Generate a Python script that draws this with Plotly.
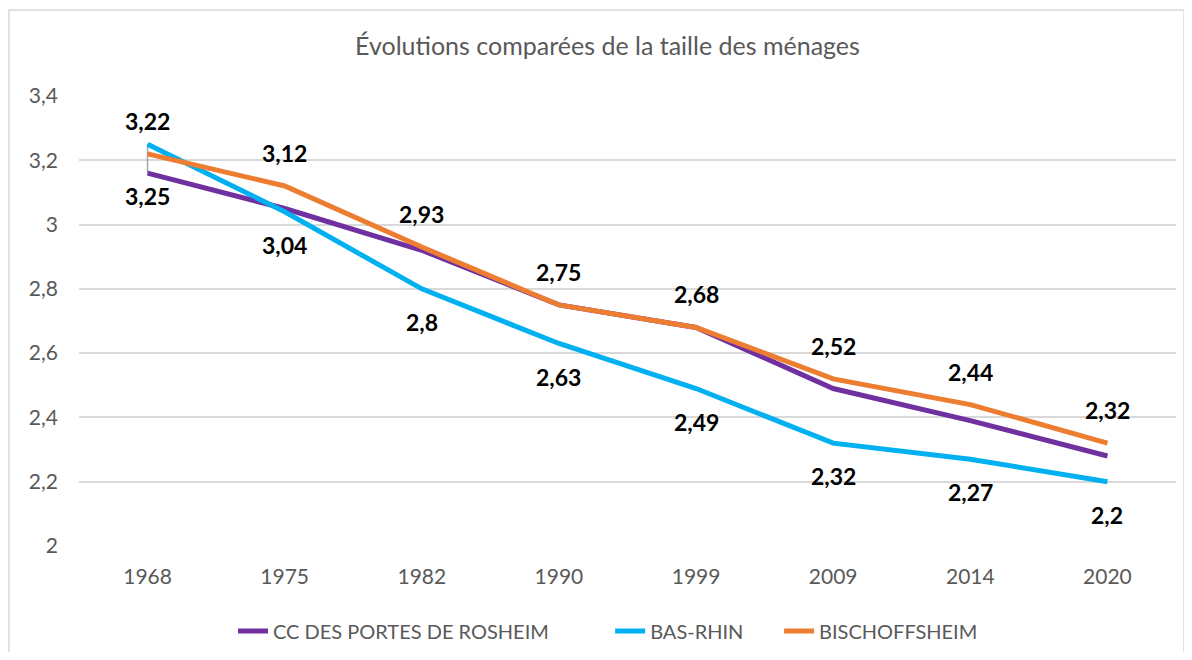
import plotly.graph_objects as go

years = ["1968", "1975", "1982", "1990", "1999", "2009", "2014", "2020"]
rosheim = [3.16, 3.05, 2.92, 2.75, 2.68, 2.49, 2.39, 2.28]
bas_rhin = [3.25, 3.04, 2.80, 2.63, 2.49, 2.32, 2.27, 2.20]
bischoffsheim = [3.22, 3.12, 2.93, 2.75, 2.68, 2.52, 2.44, 2.32]

series_names = ["CC DES PORTES DE ROSHEIM", "BAS-RHIN", "BISCHOFFSHEIM"]
colors = ["#7030A0", "#00B0F0", "#ED7D31"]
legend_pad = [11, 6, 0]  # non-breaking spaces to widen legend spacing

# page has an 8px body margin, so the figure is offset by 8px
OFF = 8
W, H = 1192 - 2 * OFF, 660 - 2 * OFF
ml, mt = 79 - OFF, 96 - OFF
mr = W - (1176 - OFF)
mb = H - (546 - OFF)

fig = go.Figure()
# leader line for the first Bas-Rhin label
fig.add_trace(go.Scatter(x=[years[0], years[0]], y=[rosheim[0], bas_rhin[0]], mode="lines",
                         line=dict(color="#A6A6A6", width=1.5), showlegend=False, hoverinfo="skip"))
for name, vals, col, pad in zip(series_names, [rosheim, bas_rhin, bischoffsheim], colors, legend_pad):
    fig.add_trace(go.Scatter(x=years, y=vals, mode="lines", name=name + "\u00a0" * pad,
                             line=dict(color=col, width=5)))

def fmt(v):
    s = f"{v:.2f}".rstrip("0").rstrip(".")
    return s.replace(".", ",")

annos = []
lab_font = dict(family="Lato, Open Sans, sans-serif", size=23, color="#000000")
for i, v in enumerate(bischoffsheim):
    annos.append(dict(x=i, y=v, text=f"<b>{fmt(v)}</b>", showarrow=False, yshift=33,
                      font=lab_font, xref="x", yref="y"))
for i, v in enumerate(bas_rhin):
    annos.append(dict(x=i, y=v, text=f"<b>{fmt(v)}</b>", showarrow=False,
                      yshift=-52 if i == 0 else -33, font=lab_font, xref="x", yref="y"))

pw = W - ml - mr
ph = H - mt - mb
fig.update_layout(
    width=W, height=H,
    margin=dict(l=ml, r=mr, t=mt, b=mb, autoexpand=False),
    paper_bgcolor="white", plot_bgcolor="white",
    separators=", ",
    font=dict(family="Lato, Open Sans, sans-serif", color="#595959", size=21),
    title=dict(text="Évolutions comparées de la taille des ménages", x=(607.5 - OFF) / W, xanchor="center",
               y=1 - (46 - OFF) / H, yanchor="middle", font=dict(size=25, color="#595959")),
    xaxis=dict(type="category", range=[-0.5, 7.5], showgrid=False, showline=False,
               ticks="", ticklabelstandoff=16, tickfont=dict(size=21, color="#595959")),
    yaxis=dict(range=[2, 3.4], dtick=0.2, tick0=2, showgrid=True, gridcolor="#D9D9D9",
               gridwidth=1.5, zeroline=False, showline=False, ticks="", ticklabelstandoff=20,
               tickfont=dict(size=21, color="#595959")),
    legend=dict(orientation="h", x=(233 - OFF - ml) / pw, xanchor="left",
                y=-((631 - OFF) - (mt + ph)) / ph, yanchor="middle",
                font=dict(size=20, color="#595959"), tracegroupgap=0),
    annotations=annos,
    shapes=[dict(type="rect", xref="paper", yref="paper",
                 x0=(9 - OFF - ml) / pw, x1=(1184 - OFF - ml) / pw,
                 y0=-(H + 5 - mt - ph) / ph, y1=(ph + mt - (10 - OFF)) / ph,
                 line=dict(color="#D9D9D9", width=1.5), layer="below")],
)

fig.write_html("out.html")
